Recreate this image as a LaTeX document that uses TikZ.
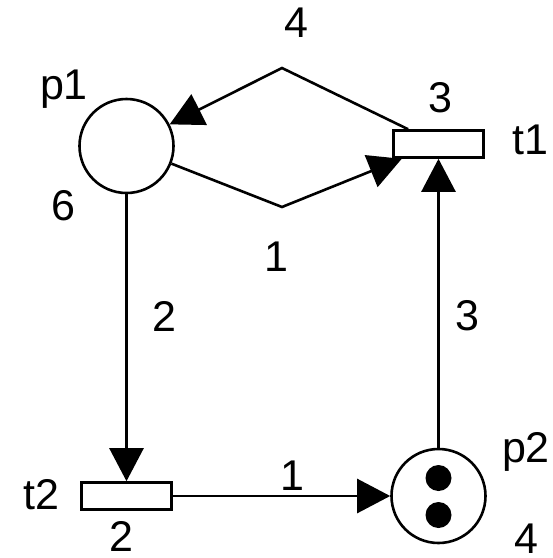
\documentclass[tikz,border=0pt]{standalone}
\usepackage{fontspec}
\setmainfont{Liberation Sans}
\usetikzlibrary{positioning, arrows.meta}

\begin{document}
\begin{tikzpicture}[x=1pt, y=-1pt, line width=2.6pt,
    place/.style={draw, circle, minimum size=94pt, inner sep=0pt},
    trans/.style={draw, rectangle, minimum width=90pt, minimum height=27pt, inner sep=0pt},
    token/.style={fill, circle, minimum size=26pt, inner sep=0pt},
    lbl/.style={inner sep=0pt, font=\fontsize{43}{50}\selectfont},
    arc/.style={-{Triangle[length=33pt, width=34pt]}}]
  \useasboundingbox (0,0) rectangle (553,558);

  % places and transitions
  \node[place] (p1) at (126.5,146) {};
  \node[place] (p2) at (438.5,496) {};
  \node[trans] (t1) at (438.5,144) {};
  \node[trans] (t2) at (126.5,496) {};
  \node[token] (tokA) at (438.5,478) {};
  \node[token] (tokB) at (438.5,515) {};

  % bends of the two arcs between p1 and t1
  \coordinate (bendTop) at (282,68);
  \coordinate (bendBot) at (282,207);

  % arcs
  \draw[arc] (t1) -- (bendTop) -- (p1);
  \draw[arc] (p1) -- (bendBot) -- (t1);
  \draw[arc] (p1) -- (t2);
  \draw[arc] (t2) -- (p2);
  \draw[arc] (p2) -- (t1);

  % names and marks
  \node[lbl] (p1name) at (64,89.5) {p1};
  \node[lbl] (p1mark) at (63,206) {6};
  \node[lbl] (p2name) at (526,452) {p2};
  \node[lbl] (p2mark) at (526,539) {4};
  \node[lbl] (t1name) at (530,140) {t1};
  \node[lbl] (t1prio) at (440,97.5) {3};
  \node[lbl] (t2name) at (41,495) {t2};
  \node[lbl] (t2prio) at (121,536) {2};

  % weights
  \node[lbl] (wTop) at (296,23) {4};
  \node[lbl] (wBot) at (276,257) {1};
  \node[lbl] (wLeft) at (164,316) {2};
  \node[lbl] (wRight) at (467,316) {3};
  \node[lbl] (wMid) at (292,476) {1};
\end{tikzpicture}
\end{document}
